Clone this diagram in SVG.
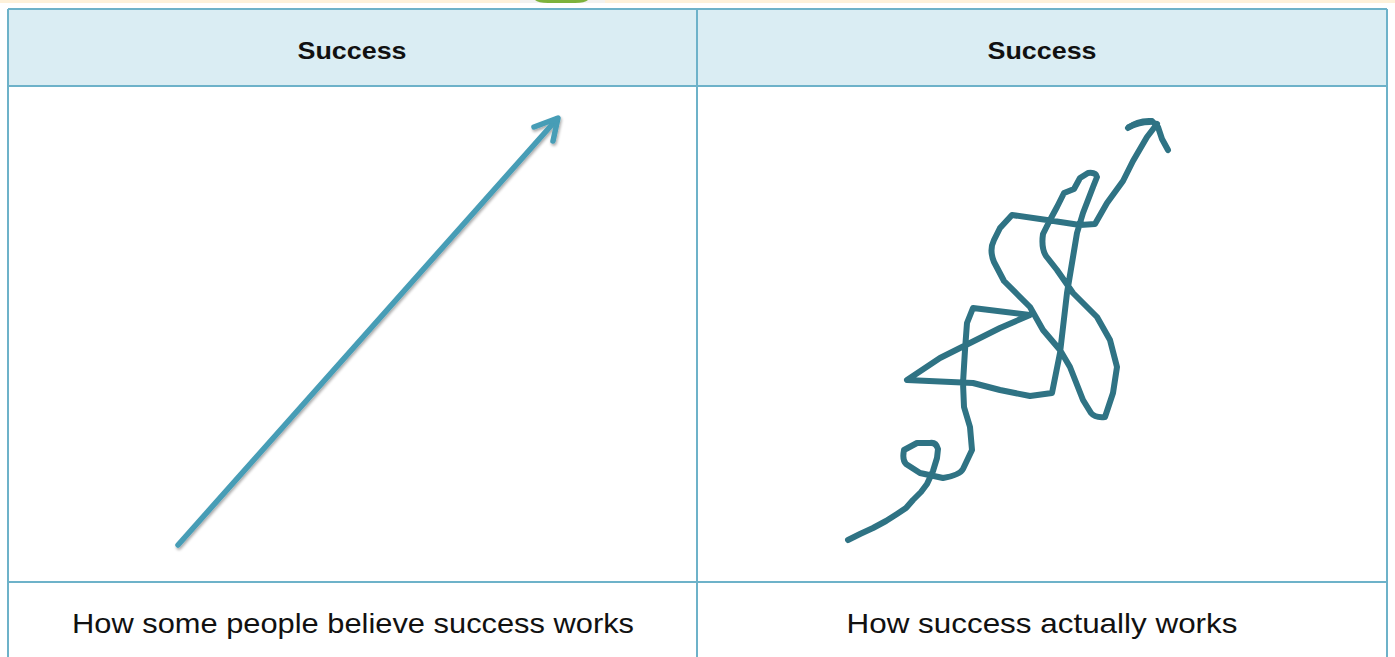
<svg xmlns="http://www.w3.org/2000/svg" width="1395" height="657" viewBox="0 0 1395 657">
  <style>
    .grid { stroke: #6db2c9; stroke-width: 2; fill: none; }
    .hdr { fill: #daedf3; }
    .htxt { font-family: "Comic Sans MS", "Liberation Sans", sans-serif; font-weight: bold; font-size: 24px; fill: #111; text-anchor: middle; }
    .ftxt { font-family: "Comic Sans MS", "Liberation Sans", sans-serif; font-size: 28px; fill: #111; text-anchor: middle; }
    .straight { stroke: #469db6; stroke-width: 5.5; fill: none; stroke-linecap: round; stroke-linejoin: round; }
    .wiggly { stroke: #2f7384; stroke-width: 6; fill: none; stroke-linecap: round; stroke-linejoin: round; }
  </style>
  <defs>
    <filter id="shadow" x="-10%" y="-10%" width="120%" height="120%">
      <feGaussianBlur in="SourceAlpha" stdDeviation="1.5"/>
      <feOffset dx="1" dy="2" result="b"/>
      <feComponentTransfer><feFuncA type="linear" slope="0.35"/></feComponentTransfer>
      <feMerge><feMergeNode/><feMergeNode in="SourceGraphic"/></feMerge>
    </filter>
  </defs>
  <rect x="0" y="0" width="1395" height="657" fill="#ffffff"/>
  <rect x="0" y="0" width="1395" height="3" fill="#fdf1da"/>
  <rect x="520" y="0" width="85" height="3" fill="#f2f2f0"/>
  <path d="M535 0 H588 Q585 3 575 3 H548 Q538 3 535 0 Z" fill="#7db23c"/>

  <g id="header-left">
    <rect class="hdr" x="8" y="9" width="689" height="77"/>
    <text class="htxt" x="352" y="59" textLength="109" lengthAdjust="spacingAndGlyphs">Success</text>
  </g>
  <g id="header-right">
    <rect class="hdr" x="697" y="9" width="690" height="77"/>
    <text class="htxt" x="1042" y="59" textLength="109" lengthAdjust="spacingAndGlyphs">Success</text>
  </g>
  <g id="caption-left">
    <text class="ftxt" x="353" y="633" textLength="562" lengthAdjust="spacingAndGlyphs">How some people believe success works</text>
  </g>
  <g id="caption-right">
    <text class="ftxt" x="1042" y="633" textLength="391" lengthAdjust="spacingAndGlyphs">How success actually works</text>
  </g>
  <g id="table-grid">
    <path class="grid" d="M8 9 H1387 M8 86 H1387 M8 582 H1387 M8 9 V657 M697 9 V657 M1387 9 V657"/>
  </g>

  <g id="connectors">
    <g id="belief-arrow" filter="url(#shadow)">
      <path class="straight" d="M178 545 L557 119"/>
      <path class="straight" d="M534 127 L558 118 L553 141"/>
    </g>
    <g id="reality-arrow">
      <path class="wiggly" d="M848 540 L860 534 L873 528 L886 521 L897 514 L906 508 L913 500 L921 492 L927 484 L933 471 L937 458 L938 449 Q936 442 930 443 L917 443 L904 450 Q902 460 906 464 L920 473 L943 478 Q960 475 963 469 L972 450 L970 427 L964 407 L963 383 L965 350 L967 323 L973 308 L1030 315 L1000 328 L970 343 L940 358 L907 380 L973 383 L1000 390 L1030 396 L1052 393 L1060 353 L1067 293 L1077 233 L1083 213 L1093 187 L1097 177 Q1096 172 1088 173 L1080 178 L1074 189 L1064 193 L1057 207 L1050 220 L1043 234 Q1041 248 1046 256 L1057 270 L1073 293 L1097 317 L1110 340 L1117 367 L1113 393 L1105 417 Q1095 418 1091 413 L1083 400 L1070 367 L1060 350 L1043 330 L1030 307 L1017 294 L1004 281 L994 262 Q989 250 994 240 L1000 228 L1012 215 L1047 220 L1080 225 L1095 224 L1107 203 L1123 181 L1133 161 L1147 137 L1157 124"/>
      <path class="wiggly" d="M1128 128 Q1138 120 1152 121 L1158 127 L1162 139 L1168 150"/>
      <path class="wiggly" stroke-width="8" d="M1129 127 Q1139 122 1150 122"/>
    </g>
  </g>
</svg>
